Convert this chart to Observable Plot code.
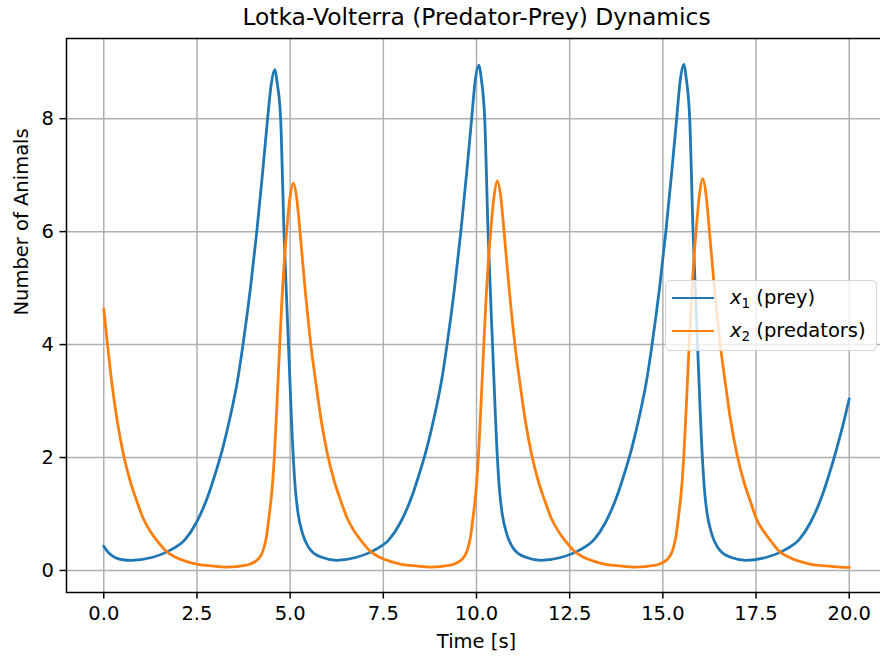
<!DOCTYPE html>
<html>
<head>
<meta charset="utf-8">
<script src="https://cdn.jsdelivr.net/npm/d3@7"></script>
<script src="https://cdn.jsdelivr.net/npm/@observablehq/plot@0.6"></script>
<style>
  html, body { margin: 0; padding: 0; background: #fff; overflow: hidden; }
  #wrap { position: relative; width: 880px; height: 658px; overflow: hidden; font-family: "DejaVu Sans", sans-serif; }
  #legend {
    position: absolute; left: 665px; top: 280px; width: 212px; height: 71px;
    background: rgba(255,255,255,0.8); border: 1px solid #d6d6d6; border-radius: 5px;
    box-sizing: border-box; font-size: 19.5px; color: #000;
  }
  .row { position: absolute; left: 0; width: 100%; height: 24px; }
  .swatch { position: absolute; left: 6px; top: 10.5px; width: 42px; height: 0; border-top: 2.8px solid; }
  .lab { position: absolute; left: 64px; top: 0; white-space: nowrap; line-height: 24px; }
  .lab i { font-style: italic; }
  .lab sub { font-size: 13.5px; vertical-align: -4px; line-height: 0; }
</style>
</head>
<body>
<div id="wrap"></div>
<script>
// x1 (prey): time [s] and values
const preyTime = [0, 0.12, 0.3, 0.5, 0.75, 1.285, 1.785, 2.185, 2.485, 2.785, 2.985, 3.185, 3.385, 3.585, 3.735, 3.935, 4.105, 4.255, 4.395, 4.495, 4.585, 4.655, 4.745, 4.835, 4.955, 5.085, 5.145, 5.215, 5.335, 5.485, 5.645, 5.865, 6.245,
  6.76, 7.26, 7.66, 7.96, 8.26, 8.46, 8.66, 8.86, 9.06, 9.21, 9.41, 9.58, 9.73, 9.87, 9.97, 10.06, 10.13, 10.22, 10.31, 10.43, 10.56, 10.62, 10.69, 10.81, 10.96, 11.12, 11.34, 11.72,
  12.26, 12.76, 13.16, 13.46, 13.76, 13.96, 14.16, 14.36, 14.56, 14.71, 14.91, 15.08, 15.23, 15.37, 15.47, 15.56, 15.63, 15.72, 15.81, 15.93, 16.06, 16.12, 16.19, 16.31, 16.46, 16.62, 16.84, 17.22,
  17.76, 18.26, 18.66, 18.96, 19.26, 19.46, 19.66, 19.86, 20.0];
const preyValues = [0.43, 0.32, 0.23, 0.19, 0.18, 0.23, 0.36, 0.55, 0.85, 1.3, 1.7, 2.15, 2.7, 3.35, 4.0, 5.0, 6.0, 7.0, 8.0, 8.62, 8.87, 8.62, 8.0, 6.0, 4.0, 2.0, 1.4, 1.0, 0.65, 0.42, 0.3, 0.23, 0.18,
  0.23, 0.36, 0.55, 0.85, 1.3, 1.7, 2.15, 2.7, 3.35, 4.0, 5.0, 6.0, 7.0, 8.0, 8.7, 8.95, 8.7, 8.0, 6.0, 4.0, 2.0, 1.4, 1.0, 0.65, 0.42, 0.3, 0.23, 0.18,
  0.23, 0.36, 0.55, 0.85, 1.3, 1.7, 2.15, 2.7, 3.35, 4.0, 5.0, 6.0, 7.0, 8.0, 8.7, 8.96, 8.7, 8.0, 6.0, 4.0, 2.0, 1.4, 1.0, 0.65, 0.42, 0.3, 0.23, 0.18,
  0.23, 0.36, 0.55, 0.85, 1.3, 1.7, 2.15, 2.65, 3.04];

// x2 (predators): time [s] and values
const predTime = [0, 0.1, 0.22, 0.36, 0.53, 0.71, 0.88, 1.06, 1.26, 1.46, 1.66, 1.91, 2.21, 2.51, 2.91, 3.31,
  3.785, 3.945, 4.085, 4.165, 4.235, 4.305, 4.365, 4.425, 4.495, 4.535, 4.575, 4.625, 4.675, 4.725, 4.785, 4.845, 4.905, 4.995, 5.085,
  5.175, 5.265, 5.385, 5.555, 5.695, 5.835, 6.005, 6.185, 6.355, 6.535, 6.735, 6.935, 7.135, 7.385, 7.685, 7.985, 8.385, 8.785,
  9.26, 9.42, 9.56, 9.64, 9.71, 9.78, 9.84, 9.9, 9.97, 10.01, 10.05, 10.1, 10.15, 10.2, 10.26, 10.32, 10.38, 10.47, 10.56,
  10.65, 10.74, 10.86, 11.03, 11.17, 11.31, 11.48, 11.66, 11.83, 12.01, 12.21, 12.41, 12.61, 12.86, 13.16, 13.46, 13.86, 14.26,
  14.77, 14.93, 15.07, 15.15, 15.22, 15.29, 15.35, 15.41, 15.48, 15.52, 15.56, 15.61, 15.66, 15.71, 15.77, 15.83, 15.89, 15.98, 16.07,
  16.16, 16.25, 16.37, 16.54, 16.68, 16.82, 16.99, 17.17, 17.34, 17.52, 17.72, 17.92, 18.12, 18.37, 18.67, 18.97, 19.37, 19.77, 20.0];
const predValues = [4.63, 4.0, 3.3, 2.65, 2.05, 1.58, 1.24, 0.92, 0.68, 0.5, 0.35, 0.24, 0.16, 0.11, 0.08, 0.06,
  0.09, 0.12, 0.17, 0.22, 0.29, 0.42, 0.6, 0.9, 1.3, 1.6, 2.0, 2.65, 3.35, 4.05, 4.85, 5.5, 6.0, 6.6, 6.86,
  6.6, 6.0, 5.1, 4.0, 3.3, 2.65, 2.05, 1.58, 1.24, 0.92, 0.68, 0.5, 0.35, 0.24, 0.16, 0.11, 0.08, 0.06,
  0.09, 0.12, 0.17, 0.22, 0.29, 0.42, 0.6, 0.9, 1.3, 1.6, 2.0, 2.65, 3.35, 4.05, 4.85, 5.5, 6.0, 6.62, 6.9,
  6.62, 6.0, 5.1, 4.0, 3.3, 2.65, 2.05, 1.58, 1.24, 0.92, 0.68, 0.5, 0.35, 0.24, 0.16, 0.11, 0.08, 0.06,
  0.09, 0.12, 0.17, 0.22, 0.29, 0.42, 0.6, 0.9, 1.3, 1.6, 2.0, 2.65, 3.35, 4.05, 4.85, 5.5, 6.0, 6.65, 6.94,
  6.65, 6.0, 5.1, 4.0, 3.3, 2.65, 2.05, 1.58, 1.24, 0.9, 0.68, 0.5, 0.34, 0.24, 0.16, 0.11, 0.08, 0.06, 0.055];

const xTicks = [0, 2.5, 5, 7.5, 10, 12.5, 15, 17.5, 20];
const yTicks = [0, 2, 4, 6, 8];
const seriesNames = ["x1 (prey)", "x2 (predators)"];
const seriesColors = ["#1f77b4", "#ff7f0e"];

const prey = preyTime.map((t, i) => ({t, v: preyValues[i], s: seriesNames[0]}));
const pred = predTime.map((t, i) => ({t, v: predValues[i], s: seriesNames[1]}));

const font = "DejaVu Sans, sans-serif";
const fs = 19.5;

const chart = Plot.plot({
  width: 880,
  height: 658,
  marginLeft: 66,
  marginRight: -6,
  marginTop: 38,
  marginBottom: 66,
  style: {fontFamily: font, fontSize: fs + "px", color: "#000", background: "#fff", overflow: "visible"},
  x: {domain: [-1, 21]},
  y: {domain: [-0.39, 9.42]},
  color: {domain: seriesNames, range: seriesColors},
  marks: [
    Plot.gridX(xTicks, {stroke: "#b0b0b0", strokeOpacity: 1, strokeWidth: 1.5}),
    Plot.gridY(yTicks, {stroke: "#b0b0b0", strokeOpacity: 1, strokeWidth: 1.5}),
    Plot.line(prey, {x: "t", y: "v", stroke: "s", strokeWidth: 2.8, curve: "monotone-x"}),
    Plot.line(pred, {x: "t", y: "v", stroke: "s", strokeWidth: 2.8, curve: "monotone-x"}),
    Plot.frame({stroke: "#000", strokeWidth: 1.5}),
    Plot.axisX(xTicks, {tickSize: 6.5, tickPadding: 7, tickFormat: d3.format(".1f"), label: null, fontSize: fs, stroke: "#000", strokeWidth: 1.5}),
    Plot.axisY(yTicks, {tickSize: 6.5, tickPadding: 6, tickFormat: d3.format("d"), label: null, fontSize: fs, stroke: "#000", strokeWidth: 1.5}),
    Plot.text(["Lotka-Volterra (Predator-Prey) Dynamics"], {frameAnchor: "top", dy: -21, fontSize: 23.4, lineAnchor: "middle", fill: "#000"}),
    Plot.text(["Time [s]"], {frameAnchor: "bottom", dy: 49, fontSize: fs, lineAnchor: "middle", fill: "#000"}),
    Plot.text(["Number of Animals"], {frameAnchor: "left", dx: -45, rotate: -90, fontSize: fs, lineAnchor: "middle", fill: "#000"})
  ]
});

const wrap = document.getElementById("wrap");
wrap.appendChild(chart);

const legend = document.createElement("div");
legend.id = "legend";
legend.innerHTML =
  `<div class="row" style="top:5px"><span class="swatch" style="border-color:${seriesColors[0]}"></span><span class="lab"><i>x</i><sub>1</sub> (prey)</span></div>` +
  `<div class="row" style="top:38px"><span class="swatch" style="border-color:${seriesColors[1]}"></span><span class="lab"><i>x</i><sub>2</sub> (predators)</span></div>`;
wrap.appendChild(legend);
</script>
</body>
</html>
